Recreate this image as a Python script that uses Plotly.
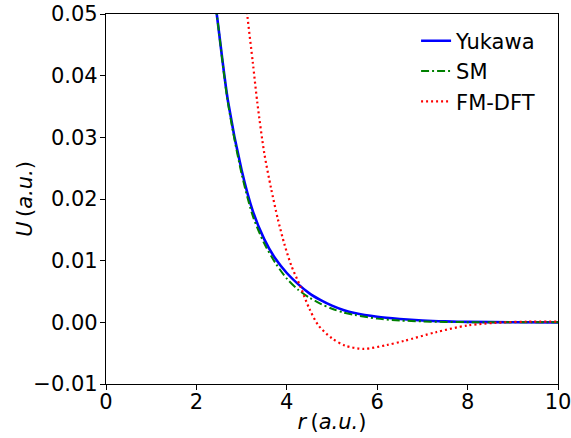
import plotly.graph_objects as go

# values
r_yuk = [2.2, 2.45, 2.7, 3.0, 3.25, 3.5, 3.75, 4.0, 4.25, 4.5, 4.75, 5.0, 5.25, 5.5, 6.0, 6.5, 7.0, 7.5, 8.0, 9.0, 10.0]
u_yuk = [0.064, 0.050, 0.0358, 0.0247, 0.0180, 0.0135, 0.0103, 0.0080, 0.0062, 0.0047, 0.0036, 0.0027, 0.0020, 0.0015, 0.0009, 0.00055, 0.0003, 0.00015, 0.00007, 0.00002, 0.0]

r_sm = [2.2, 2.45, 2.7, 3.0, 3.25, 3.5, 3.75, 4.0, 4.25, 4.5, 4.75, 5.0, 5.25, 5.5, 6.0, 6.5, 7.0, 7.5, 8.0, 9.0, 10.0]
u_sm = [0.064, 0.050, 0.0355, 0.0241, 0.0172, 0.0128, 0.0096, 0.0071, 0.0053, 0.0040, 0.0030, 0.0022, 0.0016, 0.0012, 0.0006, 0.0003, 0.00015, 0.00007, 0.00003, 0.00001, 0.0]

r_fm = [3.0, 3.13, 3.25, 3.35, 3.5, 3.65, 3.8, 3.95, 4.1, 4.3, 4.5, 4.7, 5.0, 5.3, 5.7, 6.2, 6.6, 7.3, 8.0, 8.8, 9.3, 10.0]
u_fm = [0.060, 0.0496, 0.042, 0.0355, 0.0275, 0.0218, 0.0168, 0.0126, 0.0092, 0.0058, 0.0022, -0.0005, -0.0026, -0.0038, -0.0043, -0.0037, -0.0030, -0.0016, -0.0005, 0.0, 0.0001, 0.0001]

font = "DejaVu Sans"
fsize = 21

fig = go.Figure()
fig.add_trace(go.Scatter(x=r_yuk, y=u_yuk, mode="lines", name="Yukawa",
                         line=dict(color="blue", width=2.6, shape="spline", smoothing=0.8)))
fig.add_trace(go.Scatter(x=r_sm, y=u_sm, mode="lines", name="SM",
                         line=dict(color="green", width=2, dash="8px,3px,2px,3px", shape="spline", smoothing=0.8)))
fig.add_trace(go.Scatter(x=r_fm, y=u_fm, mode="lines", name="FM-DFT",
                         line=dict(color="red", width=2.2, dash="2px,3px", shape="spline", smoothing=0.8)))

axis_common = dict(showgrid=False, zeroline=False, showline=True, linecolor="black", linewidth=1.3,
                   mirror=True, ticks="outside", ticklen=5, tickwidth=1.3, tickcolor="black",
                   automargin=False, ticklabeloverflow="allow",
                   tickfont=dict(family=font, size=fsize, color="black"))

fig.update_xaxes(range=[0, 10], tickvals=[0, 2, 4, 6, 8, 10], ticklabelstandoff=-6,
                 title=dict(text="<i>r</i>\u2009(<i>a.u.</i>)", font=dict(family=font, size=fsize, color="black"),
                            standoff=0),
                 **axis_common)
fig.update_yaxes(range=[-0.01, 0.05], tickvals=[-0.01, 0, 0.01, 0.02, 0.03, 0.04, 0.05],
                 ticktext=["\u22120.01", "0.00", "0.01", "0.02", "0.03", "0.04", "0.05"],
                 ticklabelstandoff=-2,
                 **axis_common)

# y axis title placed by hand (closer to the tick labels than plotly allows)
fig.add_annotation(text="<i>U</i>\u2009(<i>a.u.</i>)", xref="paper", yref="paper",
                   x=-0.18, y=0.5, xanchor="center", yanchor="middle", textangle=-90,
                   showarrow=False, font=dict(family=font, size=fsize, color="black"))

fig.update_layout(
    width=571, height=438,
    margin=dict(l=106, r=13, t=14, b=54),
    plot_bgcolor="white", paper_bgcolor="white",
    font=dict(family=font, size=fsize, color="black"),
    legend=dict(x=0.686, y=0.982, xanchor="left", yanchor="top", bgcolor="rgba(0,0,0,0)",
                font=dict(family=font, size=fsize, color="black")),
)

fig.write_html("out.html", config={"displayModeBar": False},
               post_script="document.body.style.margin='0px';")
